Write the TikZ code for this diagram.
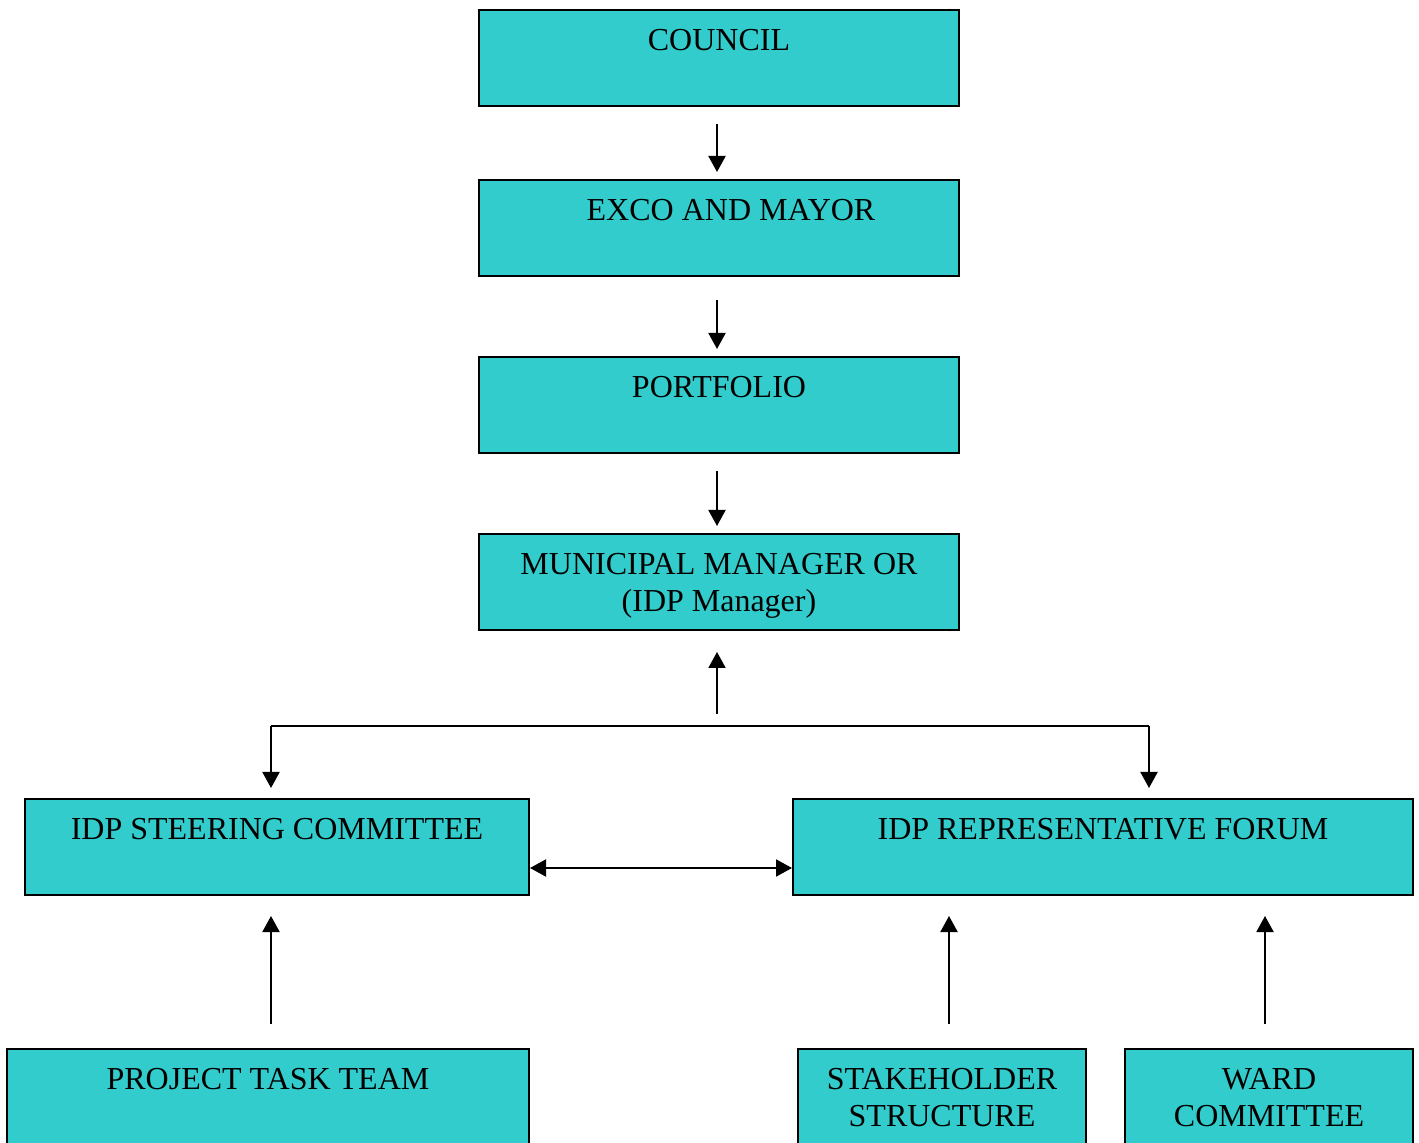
\documentclass[tikz,border=0pt]{standalone}
\usepackage{fontspec}
\setmainfont{Liberation Serif}
\usetikzlibrary{arrows.meta}
\definecolor{boxfill}{HTML}{33CCCC}

\begin{document}
\begin{tikzpicture}[x=0.5pt,y=-0.5pt,
    box/.style={draw, line width=1pt, fill=boxfill, minimum height=48pt, inner sep=0pt},
    boxtext/.style={anchor=north, inner sep=0pt, yshift=-10pt, align=center,
        font=\fontsize{16}{18.5}\selectfont},
    arr/.style={line width=1pt, -{Triangle[width=8.5pt,length=8pt]}},
    dblarr/.style={line width=1pt, {Triangle[width=8.5pt,length=8pt]}-{Triangle[width=8.5pt,length=8pt]}}]
\useasboundingbox (0,0) rectangle (1419,1143);
\clip (0,0) rectangle (1419,1143);

% the chain at the top
\node[box, minimum width=240pt] (council) at (719,58)  {};
\node[boxtext] (councilt) at (council.north) {COUNCIL};
\node[box, minimum width=240pt] (exco)    at (719,228) {};
\node[boxtext, xshift=6pt] (excot) at (exco.north) {EXCO AND MAYOR};
\node[box, minimum width=240pt] (port)    at (719,405) {};
\node[boxtext] (portt) at (port.north) {PORTFOLIO};
\node[box, minimum width=240pt] (mm)      at (719,582) {};
\node[boxtext] (mmt) at (mm.north) {MUNICIPAL MANAGER OR\\(IDP Manager)};

\coordinate (c1) at (717,124);
\coordinate (c2) at (717,300);
\coordinate (c3) at (717,471);
\draw[arr, shorten >=3.5pt] (c1) -- (c1 |- exco.north);
\draw[arr, shorten >=3.5pt] (c2) -- (c2 |- port.north);
\draw[arr, shorten >=3.5pt] (c3) -- (c3 |- mm.north);

% the two committees
\node[box, minimum width=252pt] (steer) at (277,847)  {};
\node[boxtext] (steert) at (steer.north) {IDP STEERING COMMITTEE};
\node[box, minimum width=310pt] (forum) at (1103,847) {};
\node[boxtext] (forumt) at (forum.north) {IDP REPRESENTATIVE FORUM};

\coordinate (split) at (717,726);
\coordinate (lt)    at (271,726);
\coordinate (rt)    at (1149,726);
\draw[arr, shorten <=6pt, shorten >=10.5pt] (split) -- (split |- mm.south);
\draw[line width=1pt] (lt) -- (rt);
\draw[arr, shorten >=5pt] (lt) -- (lt |- steer.north);
\draw[arr, shorten >=5pt] (rt) -- (rt |- forum.north);
\draw[dblarr] ([yshift=-10.5pt]steer.east) -- ([yshift=-10.5pt]forum.west);

% the bottom row
\node[box, minimum width=261pt] (task)  at (268,1097)  {};
\node[boxtext] (taskt) at (task.north) {PROJECT TASK TEAM};
\node[box, minimum width=144pt] (stake) at (942,1097)  {};
\node[boxtext] (staket) at (stake.north) {STAKEHOLDER\\STRUCTURE};
\node[box, minimum width=144pt] (ward)  at (1269,1097) {};
\node[boxtext] (wardt) at (ward.north) {WARD\\COMMITTEE};

\coordinate (taskup)  at (271,1024);
\coordinate (stakeup) at (949,1024);
\coordinate (wardup)  at (1265,1024);
\draw[arr, shorten >=10pt] (taskup)  -- (taskup |- steer.south);
\draw[arr, shorten >=10pt] (stakeup) -- (stakeup |- forum.south);
\draw[arr, shorten >=10pt] (wardup)  -- (wardup |- forum.south);

\end{tikzpicture}
\end{document}
